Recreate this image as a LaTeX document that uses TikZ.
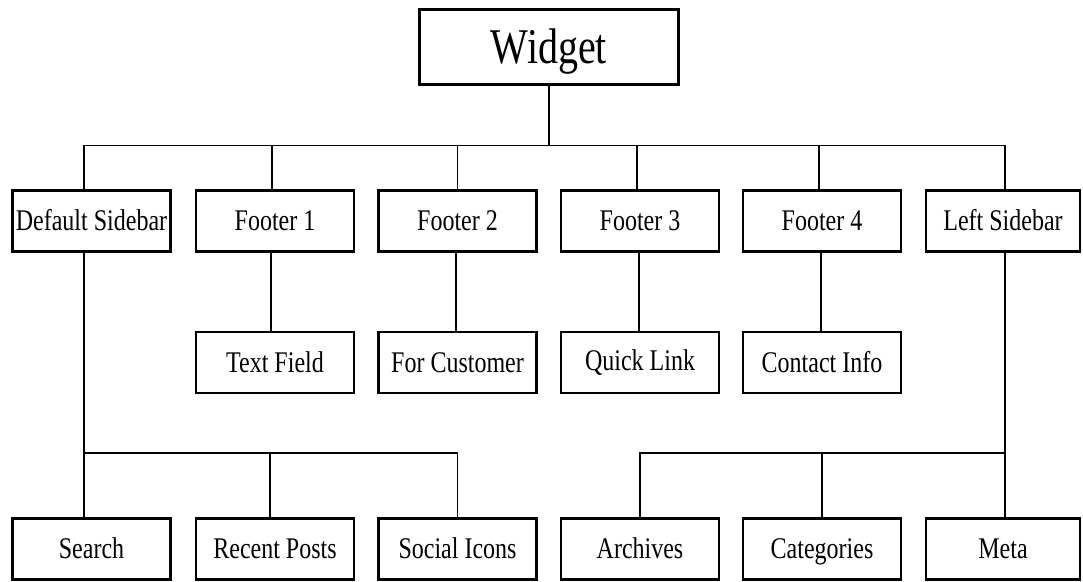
\documentclass[tikz,border=0pt]{standalone}
\usepackage{fontspec}
\setmainfont{Liberation Serif}
\usepackage{graphicx}
\newcommand{\nar}[1]{\scalebox{0.8}[1]{#1}}
\begin{document}
\begin{tikzpicture}[x=1pt,y=-1pt,
  box/.style={draw, line width=2.6pt, minimum width=158pt, minimum height=61pt,
    inner sep=0pt, text height=19.8pt, text depth=0pt,
    font=\fontsize{30}{30}\selectfont},
  conn/.style={line width=1.6pt}]
\fill[white] (0,0) rectangle (1083,581);
\useasboundingbox (0,0) rectangle (1083,581);
% root
\node[box, minimum width=259pt, minimum height=75pt, text height=33pt,
  font=\fontsize{50}{50}\selectfont] (W) at (549,47) {\nar{Widget}};
% row 1
\node[box] (DS) at (91.5,221) {\nar{Default Sidebar}};
\node[box] (F1) at (275,221) {\nar{Footer 1}};
\node[box] (F2) at (457.5,221) {\nar{Footer 2}};
\node[box] (F3) at (640,221) {\nar{Footer 3}};
\node[box] (F4) at (822,221) {\nar{Footer 4}};
\node[box, minimum width=154pt] (LS) at (1003,221) {\nar{Left Sidebar}};
% row 2
\node[box] (TF) at (275,362.5) {\nar{Text Field}};
\node[box] (FC) at (457.5,362.5) {\nar{For Customer}};
\node[box, text height=16pt] (QL) at (640,362.5) {\nar{Quick Link}};
\node[box] (CI) at (822,362.5) {\nar{Contact Info}};
% row 3
\node[box] (S) at (91.5,549) {\nar{Search}};
\node[box] (RP) at (275,549) {\nar{Recent Posts}};
\node[box] (SI) at (457.5,549) {\nar{Social Icons}};
\node[box] (AR) at (640,549) {\nar{Archives}};
\node[box] (CA) at (822,549) {\nar{Categories}};
\node[box, minimum width=154pt] (ME) at (1003,549) {\nar{Meta}};
% buses
\coordinate (bus) at (0,145.5);
\coordinate (bustwo) at (0,453);
% root to row 1
\draw[conn] (W.south) -- (W.south |- bus);
\draw[conn] ([xshift=-7.5pt]DS.north) -- ([xshift=-7.5pt]DS.north |- bus) -- ([xshift=2pt]LS.north |- bus) -- ([xshift=2pt]LS.north);
\draw[conn] ([xshift=-3pt]F1.north) -- ([xshift=-3pt]F1.north |- bus);
\draw[conn] (F2.north) -- (F2.north |- bus);
\draw[conn] ([xshift=-3pt]F3.north) -- ([xshift=-3pt]F3.north |- bus);
\draw[conn] ([xshift=-3pt]F4.north) -- ([xshift=-3pt]F4.north |- bus);
% row 1 to row 2
\draw[conn] ([xshift=-4pt]F1.south) -- ([xshift=-4pt]TF.north);
\draw[conn] ([xshift=-1.5pt]F2.south) -- ([xshift=-1.5pt]FC.north);
\draw[conn] ([xshift=-1pt]F3.south) -- ([xshift=-1pt]QL.north);
\draw[conn] ([xshift=-1pt]F4.south) -- ([xshift=-1pt]CI.north);
% default sidebar subtree
\draw[conn] ([xshift=-7.5pt]DS.south) -- ([xshift=-7.5pt]S.north);
\draw[conn] ([xshift=-7.5pt]DS.south |- bustwo) -- (SI.north |- bustwo) -- (SI.north);
\draw[conn] ([xshift=-5pt]RP.north) -- ([xshift=-5pt]RP.north |- bustwo);
% left sidebar subtree
\draw[conn] ([xshift=2pt]LS.south) -- ([xshift=2pt]ME.north);
\draw[conn] ([xshift=2pt]LS.south |- bustwo) -- (AR.north |- bustwo) -- (AR.north);
\draw[conn] (CA.north) -- (CA.north |- bustwo);
\end{tikzpicture}
\end{document}
